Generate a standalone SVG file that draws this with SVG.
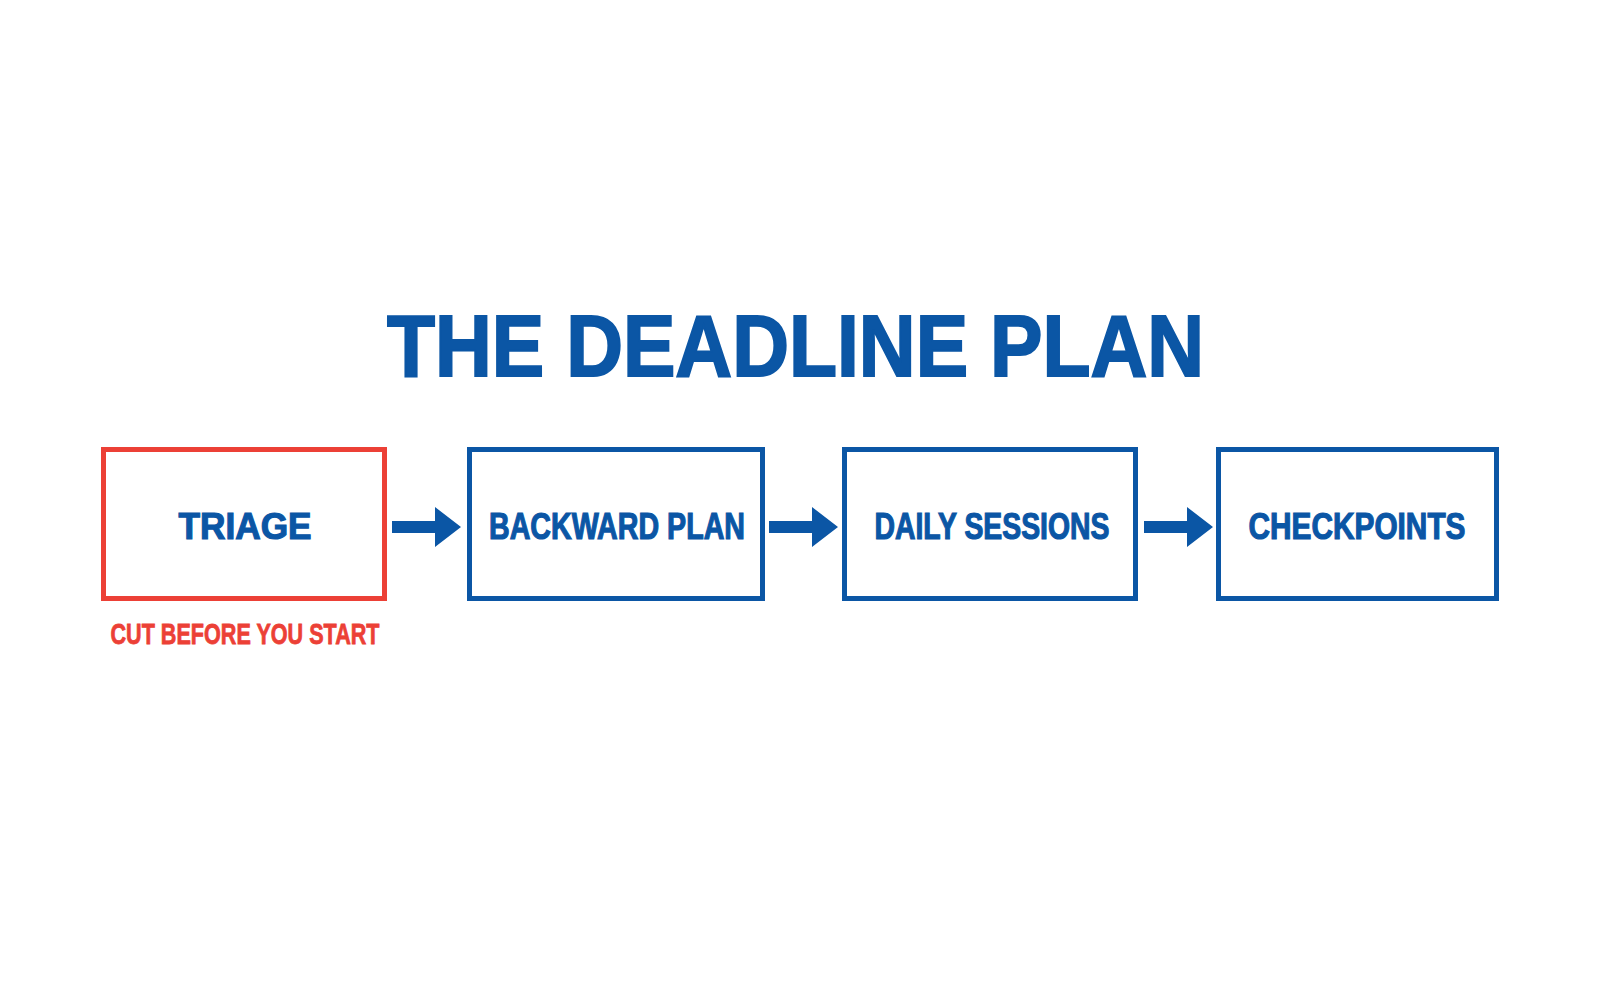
<svg xmlns="http://www.w3.org/2000/svg" xmlns:xlink="http://www.w3.org/1999/xlink" width="1600" height="1000" viewBox="0 0 1600 1000">
  <style>
    .box { fill: #ffffff; stroke-width: 5; }
    .blue { stroke: #0b56a5; }
    .red { stroke: #ec4036; }
    .lbl { font-family: "Liberation Sans", Arial, sans-serif; font-weight: bold; fill: #0b56a5; stroke: #0b56a5; stroke-width: 1.2; text-anchor: middle; }
    .title { font-family: "Liberation Sans", Arial, sans-serif; font-weight: bold; fill: #0b56a5; stroke: #0b56a5; stroke-width: 2; text-anchor: middle; }
    .note { font-family: "Liberation Sans", Arial, sans-serif; font-weight: bold; fill: #ec4036; stroke: #ec4036; stroke-width: 0.8; text-anchor: middle; }
    .arrow { fill: #0b56a5; }
  </style>
  <defs>
    <polygon id="arrowShape" points="0,-6 43,-6 43,-20 69,0 43,20 43,6 0,6"/>
  </defs>
  <rect width="1600" height="1000" fill="#ffffff"/>

  <g id="title">
    <text class="title" x="795.5" y="376" font-size="88" textLength="817" lengthAdjust="spacingAndGlyphs">THE DEADLINE PLAN</text>
  </g>

  <g id="node-triage">
    <rect class="box red" x="103.5" y="449.5" width="281" height="149"/>
    <text class="lbl" x="245" y="539" font-size="37" textLength="133" lengthAdjust="spacingAndGlyphs">TRIAGE</text>
    <text class="note" x="245" y="644" font-size="30" textLength="269" lengthAdjust="spacingAndGlyphs">CUT BEFORE YOU START</text>
  </g>

  <g id="node-backward-plan">
    <rect class="box blue" x="469.5" y="449.5" width="293" height="149"/>
    <text class="lbl" x="617" y="539" font-size="37" textLength="256" lengthAdjust="spacingAndGlyphs">BACKWARD PLAN</text>
  </g>

  <g id="node-daily-sessions">
    <rect class="box blue" x="844.5" y="449.5" width="291" height="149"/>
    <text class="lbl" x="992" y="539" font-size="37" textLength="235" lengthAdjust="spacingAndGlyphs">DAILY SESSIONS</text>
  </g>

  <g id="node-checkpoints">
    <rect class="box blue" x="1218.5" y="449.5" width="278" height="149"/>
    <text class="lbl" x="1357" y="539" font-size="37" textLength="217" lengthAdjust="spacingAndGlyphs">CHECKPOINTS</text>
  </g>

  <g id="connectors">
    <use class="arrow" xlink:href="#arrowShape" href="#arrowShape" transform="translate(392,527)"/>
    <use class="arrow" xlink:href="#arrowShape" href="#arrowShape" transform="translate(769,527)"/>
    <use class="arrow" xlink:href="#arrowShape" href="#arrowShape" transform="translate(1144,527)"/>
  </g>
</svg>
